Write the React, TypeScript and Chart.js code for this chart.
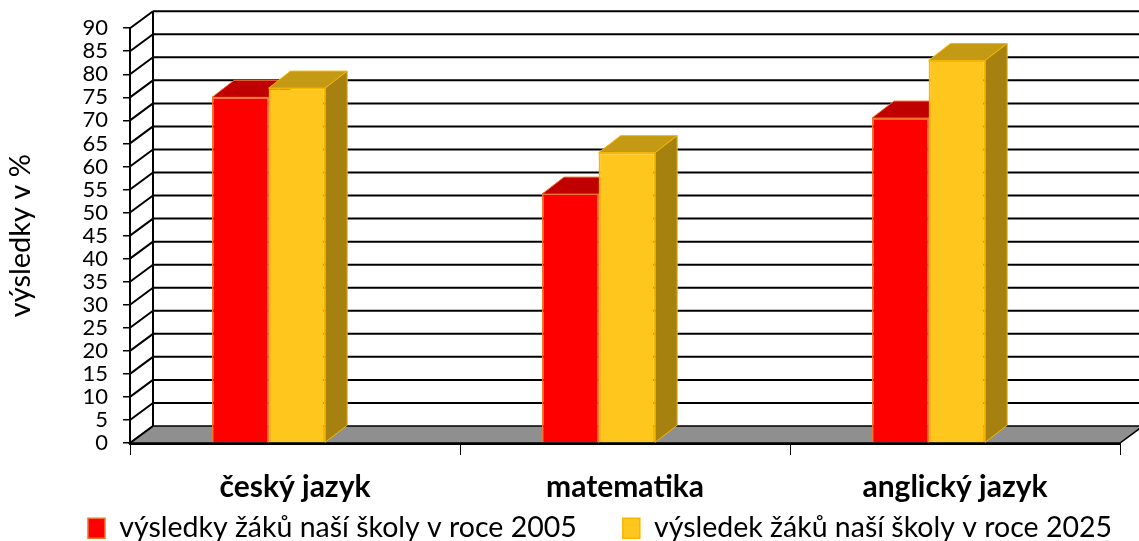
import React, { useEffect, useRef } from 'react';
import { Chart, registerables } from 'chart.js';

Chart.register(...registerables);

// ---- data ----
const categories = ['český jazyk', 'matematika', 'anglický jazyk'];
const seriesLabels = [
  'výsledky žáků naší školy v roce 2005',
  'výsledek žáků naší školy v roce 2025',
];
const results2005 = [75, 54, 70.5];
const results2025 = [77, 63, 83];
const yAxisTitle = 'výsledky v %';
const yMin = 0;
const yMax = 90;
const yStep = 5;

// ---- styles ----
const FONT = 'Lato';
const FRONT = ['#FF0000', '#FFC61E'];
const BORDER = ['#F0742E', '#F7B500'];
const TOP = ['#C00000', '#C49A14'];
const SIDE = ['#A00000', '#A6810F'];
const WALL_DX = 23;
const WALL_DY = -17;
const BAR_DX = 22;
const BAR_DY = -17;
const BAR_SHIFT = 0.08;
const LEGEND_FONT = 28.5;
const LEGEND_PAD = 46;
const X_AXIS_HEIGHT = 62;
const LEGEND_MAX_H = 541 - 443 - X_AXIS_HEIGHT;
const LEGEND_SHIFT_X = 40;
const LEGEND_SHIFT_Y = 528 - (443 + X_AXIS_HEIGHT + LEGEND_PAD + 14);

const threeDPlugin = {
  id: 'threeD',
  afterLayout(chart: any) {
    const lg = chart.legend;
    if (lg) {
      lg.left += LEGEND_SHIFT_X;
      lg.right += LEGEND_SHIFT_X;
      lg.top += LEGEND_SHIFT_Y;
      lg.bottom = chart.height;
      lg.height = lg.bottom - lg.top;
    }
  },
  beforeDatasetsDraw(chart: any) {
    const { ctx, chartArea: a } = chart;
    const y = chart.scales.y;
    const y0 = y.getPixelForValue(yMin);
    const yTop = y.getPixelForValue(yMax);
    ctx.save();
    // floor
    ctx.fillStyle = '#8f8f8f';
    ctx.beginPath();
    ctx.moveTo(a.left, y0);
    ctx.lineTo(a.right, y0);
    ctx.lineTo(a.right + WALL_DX, y0 + WALL_DY);
    ctx.lineTo(a.left + WALL_DX, y0 + WALL_DY);
    ctx.closePath();
    ctx.fill();
    ctx.strokeStyle = '#000';
    ctx.lineWidth = 1.5;
    ctx.stroke();
    // back wall + side wall grid
    ctx.lineWidth = 2;
    ctx.strokeStyle = '#000';
    y.ticks.forEach((t: any) => {
      const py = y.getPixelForValue(t.value);
      ctx.beginPath();
      if (t.value > yMin) {
        ctx.moveTo(a.left + WALL_DX, py + WALL_DY);
        ctx.lineTo(a.right + WALL_DX, py + WALL_DY);
      }
      ctx.moveTo(a.left, py);
      ctx.lineTo(a.left + WALL_DX, py + WALL_DY);
      ctx.stroke();
    });
    ctx.beginPath();
    ctx.moveTo(a.left + WALL_DX, yTop + WALL_DY);
    ctx.lineTo(a.left + WALL_DX, y0 + WALL_DY);
    ctx.stroke();
    // bar tops and sides
    ctx.lineWidth = 1;
    for (let j = 0; j < categories.length; j++) {
      chart.data.datasets.forEach((ds: any, di: number) => {
        const bar = chart.getDatasetMeta(di).data[j];
        if (!bar) return;
        const p = bar.getProps(['x', 'y', 'base', 'width'], true);
        const l = p.x - p.width / 2;
        const r = p.x + p.width / 2;
        ctx.strokeStyle = BORDER[di];
        ctx.fillStyle = TOP[di];
        ctx.beginPath();
        ctx.moveTo(l, p.y);
        ctx.lineTo(r, p.y);
        ctx.lineTo(r + BAR_DX, p.y + BAR_DY);
        ctx.lineTo(l + BAR_DX, p.y + BAR_DY);
        ctx.closePath();
        ctx.fill();
        ctx.stroke();
        ctx.fillStyle = SIDE[di];
        ctx.beginPath();
        ctx.moveTo(r, p.y);
        ctx.lineTo(r + BAR_DX, p.y + BAR_DY);
        ctx.lineTo(r + BAR_DX, p.base + BAR_DY);
        ctx.lineTo(r, p.base);
        ctx.closePath();
        ctx.fill();
        ctx.stroke();
      });
    }
    ctx.restore();
  },
};

export default function App() {
  const ref = useRef<HTMLCanvasElement>(null);
  useEffect(() => {
    if (!ref.current) return;
    const seriesData = [results2005, results2025];
    const chart = new Chart(ref.current, {
      type: 'bar',
      data: {
        labels: categories,
        datasets: seriesData.map((vals, di) => ({
          label: seriesLabels[di],
          data: vals.map((v, i) => ({ x: i, y: v })),
          xAxisID: 'xb',
          yAxisID: 'y',
          backgroundColor: FRONT[di],
          borderColor: BORDER[di],
          borderWidth: 1.5,
          categoryPercentage: 0.343,
          barPercentage: 1,
        })),
      },
      options: {
        animation: false,
        responsive: true,
        maintainAspectRatio: false,
        layout: { padding: { top: 28, right: 19, left: 0, bottom: 0 } },
        plugins: {
          tooltip: { enabled: false },
          legend: {
            position: 'bottom',
            maxHeight: LEGEND_MAX_H,
            labels: {
              color: '#000',
              font: { family: FONT, size: LEGEND_FONT },
              boxWidth: 17,
              boxHeight: 20,
              padding: LEGEND_PAD,
            },
          },
        },
        scales: {
          x: {
            type: 'category',
            offset: true,
            grid: { offset: true, drawOnChartArea: false, drawTicks: true, tickLength: 12, color: '#000', lineWidth: 1 },
            border: { display: true, color: '#000', width: 3 },
            ticks: { color: '#000', font: { family: FONT, size: 30, weight: 'bold' }, padding: 14, maxRotation: 0, autoSkip: false },
            afterFit: (s: any) => { s.height = X_AXIS_HEIGHT; },
          },
          xb: {
            type: 'linear',
            display: false,
            offset: false,
            min: -0.5 + BAR_SHIFT,
            max: categories.length - 0.5 + BAR_SHIFT,
            afterBuildTicks: (s: any) => { s.ticks = categories.map((_, i) => ({ value: i })); },
          },
          y: {
            min: yMin,
            max: yMax,
            ticks: { stepSize: yStep, autoSkip: false, color: '#000', font: { family: FONT, size: 22 }, padding: 15 },
            grid: { drawOnChartArea: false, drawTicks: true, tickLength: 7, color: '#000', lineWidth: 1.5 },
            border: { display: true, color: '#000', width: 2 },
            title: { display: true, text: yAxisTitle, color: '#000', font: { family: FONT, size: 29 }, padding: { top: 3, bottom: 0 } },
            afterFit: (s: any) => { s.width = 130; },
          },
        },
      } as any,
      plugins: [threeDPlugin],
    });
    return () => chart.destroy();
  }, []);
  return (
    <div style={{ position: 'fixed', left: 0, top: 0, width: 1139, height: 541, background: '#fff' }}>
      <canvas ref={ref} />
    </div>
  );
}
